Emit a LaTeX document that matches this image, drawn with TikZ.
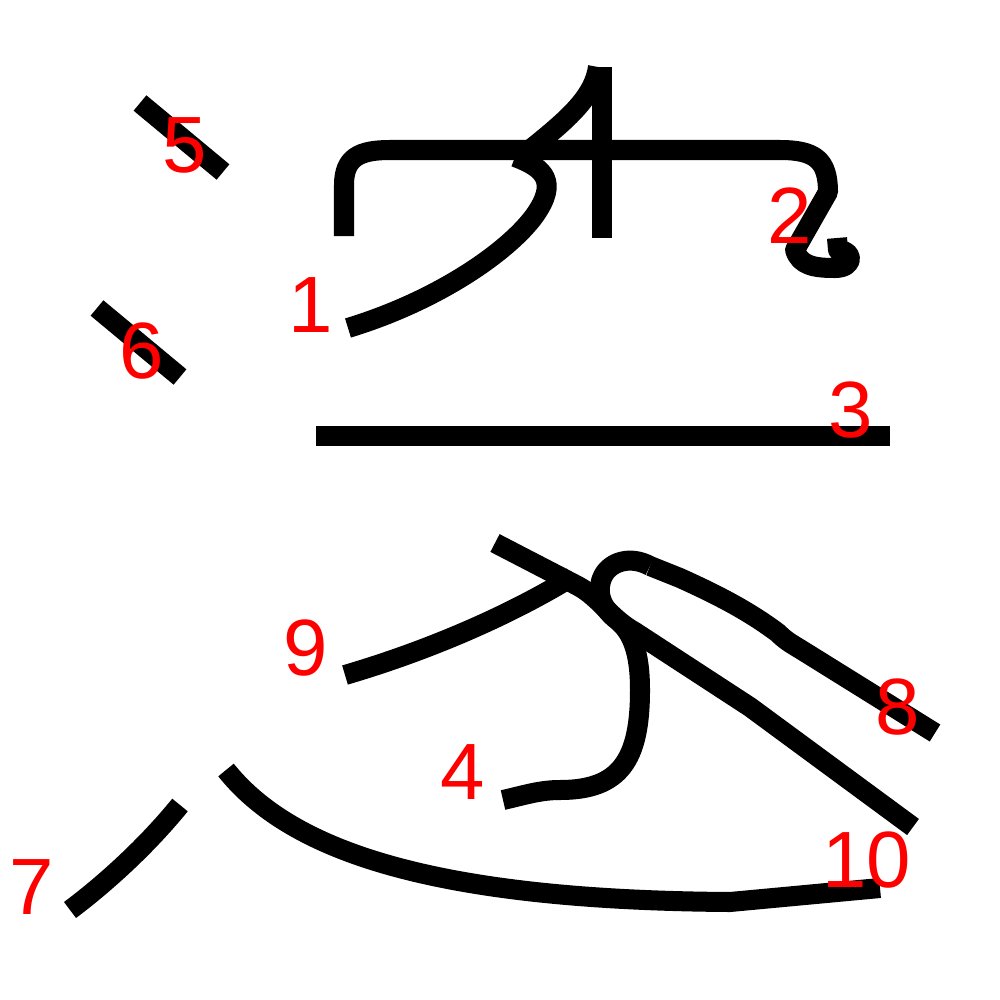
\documentclass[tikz,border=0pt]{standalone}
\usepackage{fontspec}
\newfontfamily\numfont{Liberation Sans}
\usepackage{tikz}

\begin{document}
\begin{tikzpicture}[
    x=0.01cm, y=-0.01cm,
    kstroke/.style={draw=black, line width=0.2cm, line cap=butt, line join=round},
    num/.style={text=red, inner sep=0pt, font=\numfont\fontsize{22.7}{27}\selectfont}
]
\useasboundingbox (0,0) rectangle (1000,1000);

% Top part
\draw[kstroke] (348,328) .. controls (440,300) and (510,250) .. (535,215)
    .. controls (558,182) and (545,168) .. (515,157);
\draw[kstroke] (344,236) -- (344,185) .. controls (344,157) and (360,150) .. (390,150)
    -- (780,150) .. controls (815,150) and (828,160) .. (828,192) -- (795,250)
    .. controls (800,266) and (815,268) .. (835,268)
    .. controls (855,268) and (854,250) .. (838,250) -- (837,238);
\draw[kstroke] (532,148) .. controls (572,116) and (594,95) .. (598,67);
\draw[kstroke] (602,67) -- (602,238);
\draw[kstroke] (316,436) -- (890,436);

% Left dots
\draw[kstroke] (140,103) -- (223,172);
\draw[kstroke] (97,308) -- (180,377);
\draw[kstroke] (70,910) .. controls (110,880) and (150,842) .. (180,805);

% Bottom part
\draw[kstroke] (503,800) .. controls (525,795) and (540,790) .. (560,790)
    .. controls (620,790) and (640,760) .. (640,690)
    .. controls (640,652) and (632,632) .. (617,620)
    .. controls (600,607) and (596,590) .. (603,576)
    .. controls (610,562) and (630,555) .. (650,566);
\draw[kstroke] (650,566) -- (680,578) .. controls (720,596) and (750,612) .. (778,633)
    .. controls (785,640) and (790,643) .. (800,649) -- (935,733);
\draw[kstroke] (345,675) .. controls (430,650) and (510,615) .. (572,577);
\draw[kstroke] (495,543) -- (578,586) .. controls (600,598) and (610,618) .. (635,632)
    -- (750,707) -- (913,827);
\draw[kstroke] (226,770) .. controls (290,850) and (430,900) .. (730,902) -- (880,888);

% Numbers
\node[num] (n1) at (311,305) {1};
\node[num] (n2) at (790,216) {2};
\node[num] (n3) at (851,410) {3};
\node[num] (n4) at (463,772) {4};
\node[num] (n5) at (185,145) {5};
\node[num] (n6) at (142,351) {6};
\node[num] (n7) at (32,887) {7};
\node[num] (n8) at (898,707) {8};
\node[num] (n9) at (306,648) {9};
\node[num] (n10) at (867,860) {10};

\end{tikzpicture}
\end{document}
